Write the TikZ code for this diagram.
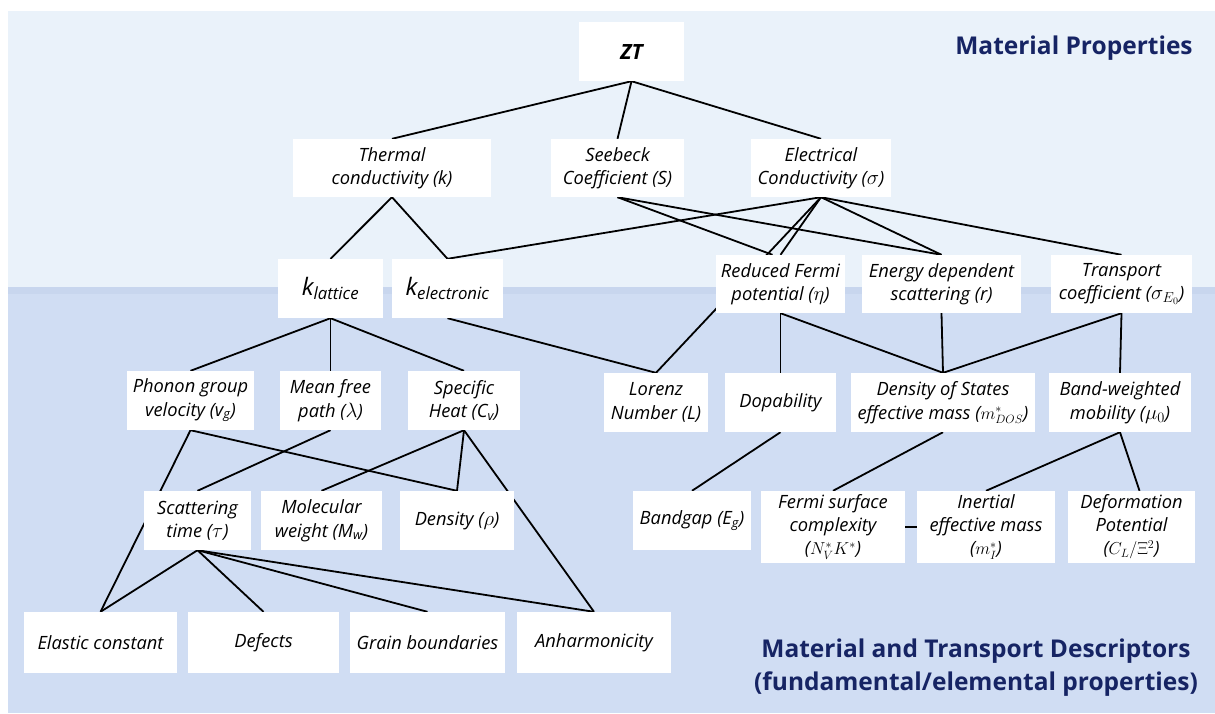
\documentclass[tikz,border=0pt]{standalone}
\usepackage{fontspec}
\setmainfont{Open Sans}
\pgfdeclarelayer{bg}
\pgfdeclarelayer{edges}
\pgfsetlayers{bg,edges,main}
\definecolor{topbg}{RGB}{234,242,250}
\definecolor{stripbg}{RGB}{200,214,238}
\definecolor{lowbg}{RGB}{208,221,243}
\definecolor{navy}{RGB}{22,36,100}
\newcommand{\mymth}[1]{{\fontsize{20.5}{22}\selectfont$#1$}}
\newcommand{\mysmth}[1]{$#1$}
\tikzset{
  box/.style={fill=white, inner sep=1pt, align=center, font=\fontsize{18.3}{23.5}\selectfont\itshape},
  tribox/.style={box, minimum height=72pt, font=\fontsize{18.3}{23}\selectfont\itshape},
  link/.style={line width=1.8pt, black},
  title/.style={text=navy, align=center, font=\fontsize{24.5}{33}\selectfont\bfseries}
}
\begin{document}
\begin{tikzpicture}[x=1pt,y=-1pt]
\useasboundingbox (0,0) rectangle (1215,713);
\begin{pgfonlayer}{bg}
\fill[white] (0,0) rectangle (1215,713);
\fill[topbg] (8,11) rectangle (1215,287);
\fill[stripbg] (8,287) rectangle (1215,294);
\fill[lowbg] (8,294) rectangle (1215,713);
\end{pgfonlayer}

\node[title] (tmp) at (1074,48) {Material Properties};
\node[title] (tdesc) at (976,668) {Material and Transport Descriptors\\(fundamental/elemental properties)};

% row 1
\node[box, minimum width=105pt, minimum height=59pt, font=\fontsize{21}{24}\selectfont\bfseries\itshape] (zt) at (631.5,51.5) {ZT};
% row 2
\node[box, minimum width=198pt, minimum height=58pt] (therm) at (392,168) {Thermal\\conductivity (k)};
\node[box, minimum width=133pt, minimum height=58pt] (seeb) at (617.5,168) {Seebeck\\Coefficient (S)};
\node[box, minimum width=140pt, minimum height=58pt] (elec) at (821,168) {Electrical\\Conductivity (\mymth{\sigma})};
% row 3
\node[box, minimum width=105pt, minimum height=59pt, font=\fontsize{24}{28}\selectfont\itshape] (klat) at (330.5,288.5) {k\textsubscript{lattice}};
\node[box, minimum width=111pt, minimum height=59pt, font=\fontsize{24}{28}\selectfont\itshape] (kel) at (447.5,288.5) {k\textsubscript{electronic}};
\node[box, minimum width=129pt, minimum height=58pt] (ferm) at (780.5,284) {Reduced Fermi\\potential (\mymth{\eta})};
\node[box, minimum width=159pt, minimum height=58pt] (ener) at (941.5,284) {Energy dependent\\scattering (r)};
\node[box, minimum width=141pt, minimum height=58pt] (trans) at (1121.5,284) {Transport\\coefficient (\mymth{\sigma_{E_0}})};
% row 4
\node[box, minimum width=127pt, minimum height=59pt] (phon) at (190.5,400.5) {Phonon group\\velocity (v\textsubscript{g})};
\node[box, minimum width=101pt, minimum height=59pt] (mfp) at (330.5,400.5) {Mean free\\path (\mymth{\lambda})};
\node[box, minimum width=112pt, minimum height=59pt] (spec) at (464,400.5) {Specific\\Heat (C\textsubscript{v})};
\node[box, minimum width=104pt, minimum height=59pt] (lor) at (656,402.5) {Lorenz\\Number (L)};
\node[box, minimum width=111pt, minimum height=59pt] (dop) at (780.5,402.5) {Dopability};
\node[box, minimum width=184pt, minimum height=59pt] (dos) at (943,402.5) {Density of States\\effective mass (\mysmth{m^*_{DOS}})};
\node[box, minimum width=142pt, minimum height=59pt] (band) at (1120,402.5) {Band-weighted\\mobility (\mymth{\mu_0})};
% row 5
\node[box, minimum width=107pt, minimum height=59pt] (scat) at (197.5,520.5) {Scattering\\time (\mymth{\tau})};
\node[box, minimum width=121pt, minimum height=59pt] (mol) at (321.5,520.5) {Molecular\\weight (M\textsubscript{w})};
\node[box, minimum width=114pt, minimum height=59pt] (dens) at (457,520.5) {Density (\mymth{\rho})};
\node[box, minimum width=118pt, minimum height=59pt] (gap) at (692,520.5) {Bandgap (E\textsubscript{g})};
\node[tribox, minimum width=144pt] (fsc) at (833,527) {Fermi surface\\complexity\\(\mysmth{N_V^*K^*})};
\node[tribox, minimum width=138pt] (iem) at (986,527) {Inertial\\effective mass\\(\mysmth{m_I^*})};
\node[tribox, minimum width=127pt] (defp) at (1131.5,527) {Deformation\\Potential\\(\mysmth{C_L/\Xi^2})};
% row 6
\node[box, minimum width=153pt, minimum height=61pt] (elas) at (100.5,642.5) {Elastic constant};
\node[box, minimum width=151pt, minimum height=61pt] (defe) at (263.5,642.5) {Defects};
\node[box, minimum width=155pt, minimum height=61pt] (grain) at (427.5,642.5) {Grain boundaries};
\node[box, minimum width=154pt, minimum height=61pt] (anh) at (594,642.5) {Anharmonicity};

\begin{pgfonlayer}{edges}
\draw[link] (zt.south) -- (therm.north);
\draw[link] (zt.south) -- (seeb.north);
\draw[link] (zt.south) -- (elec.north);
\draw[link] (therm.south) -- (klat.north);
\draw[link] (therm.south) -- (kel.north);
\draw[link] (elec.south) -- (kel.north);
\draw[link] (seeb.south) -- ([xshift=-8pt]ferm.north);
\draw[link] (seeb.south) -- (ener.north);
\draw[link] (elec.south) -- (ferm.north);
\draw[link] (elec.south) -- (lor.north);
\draw[link] (elec.south) -- (ener.north);
\draw[link] (elec.south) -- (trans.north);
\draw[link] (klat.south) -- (phon.north);
\draw[link] (klat.south) -- (mfp.north);
\draw[link] (klat.south) -- (spec.north);
\draw[link] (kel.south) -- (lor.north);
\draw[link] (ferm.south) -- (dop.north);
\draw[link] (ferm.south) -- (dos.north);
\draw[link] (ener.south) -- (dos.north);
\draw[link] (trans.south) -- (dos.north);
\draw[link] (trans.south) -- (band.north);
\draw[link] (phon.south) -- (elas.north);
\draw[link] (phon.south) -- (dens.north);
\draw[link] (mfp.south) -- (scat.north);
\draw[link] (spec.south) -- (mol.north);
\draw[link] (spec.south) -- (dens.north);
\draw[link] (spec.south) -- (anh.north);
\draw[link] (scat.south) -- (elas.north);
\draw[link] (scat.south) -- (defe.north);
\draw[link] (scat.south) -- (grain.north);
\draw[link] (scat.south) -- (anh.north);
\draw[link] (dop.south) -- (gap.north);
\draw[link] (dos.south) -- (fsc.north);
\draw[link] (band.south) -- (iem.north);
\draw[link] (band.south) -- ([xshift=8pt]defp.north);
\draw[link] (fsc.east) -- (iem.west);
\end{pgfonlayer}
\end{tikzpicture}
\end{document}
